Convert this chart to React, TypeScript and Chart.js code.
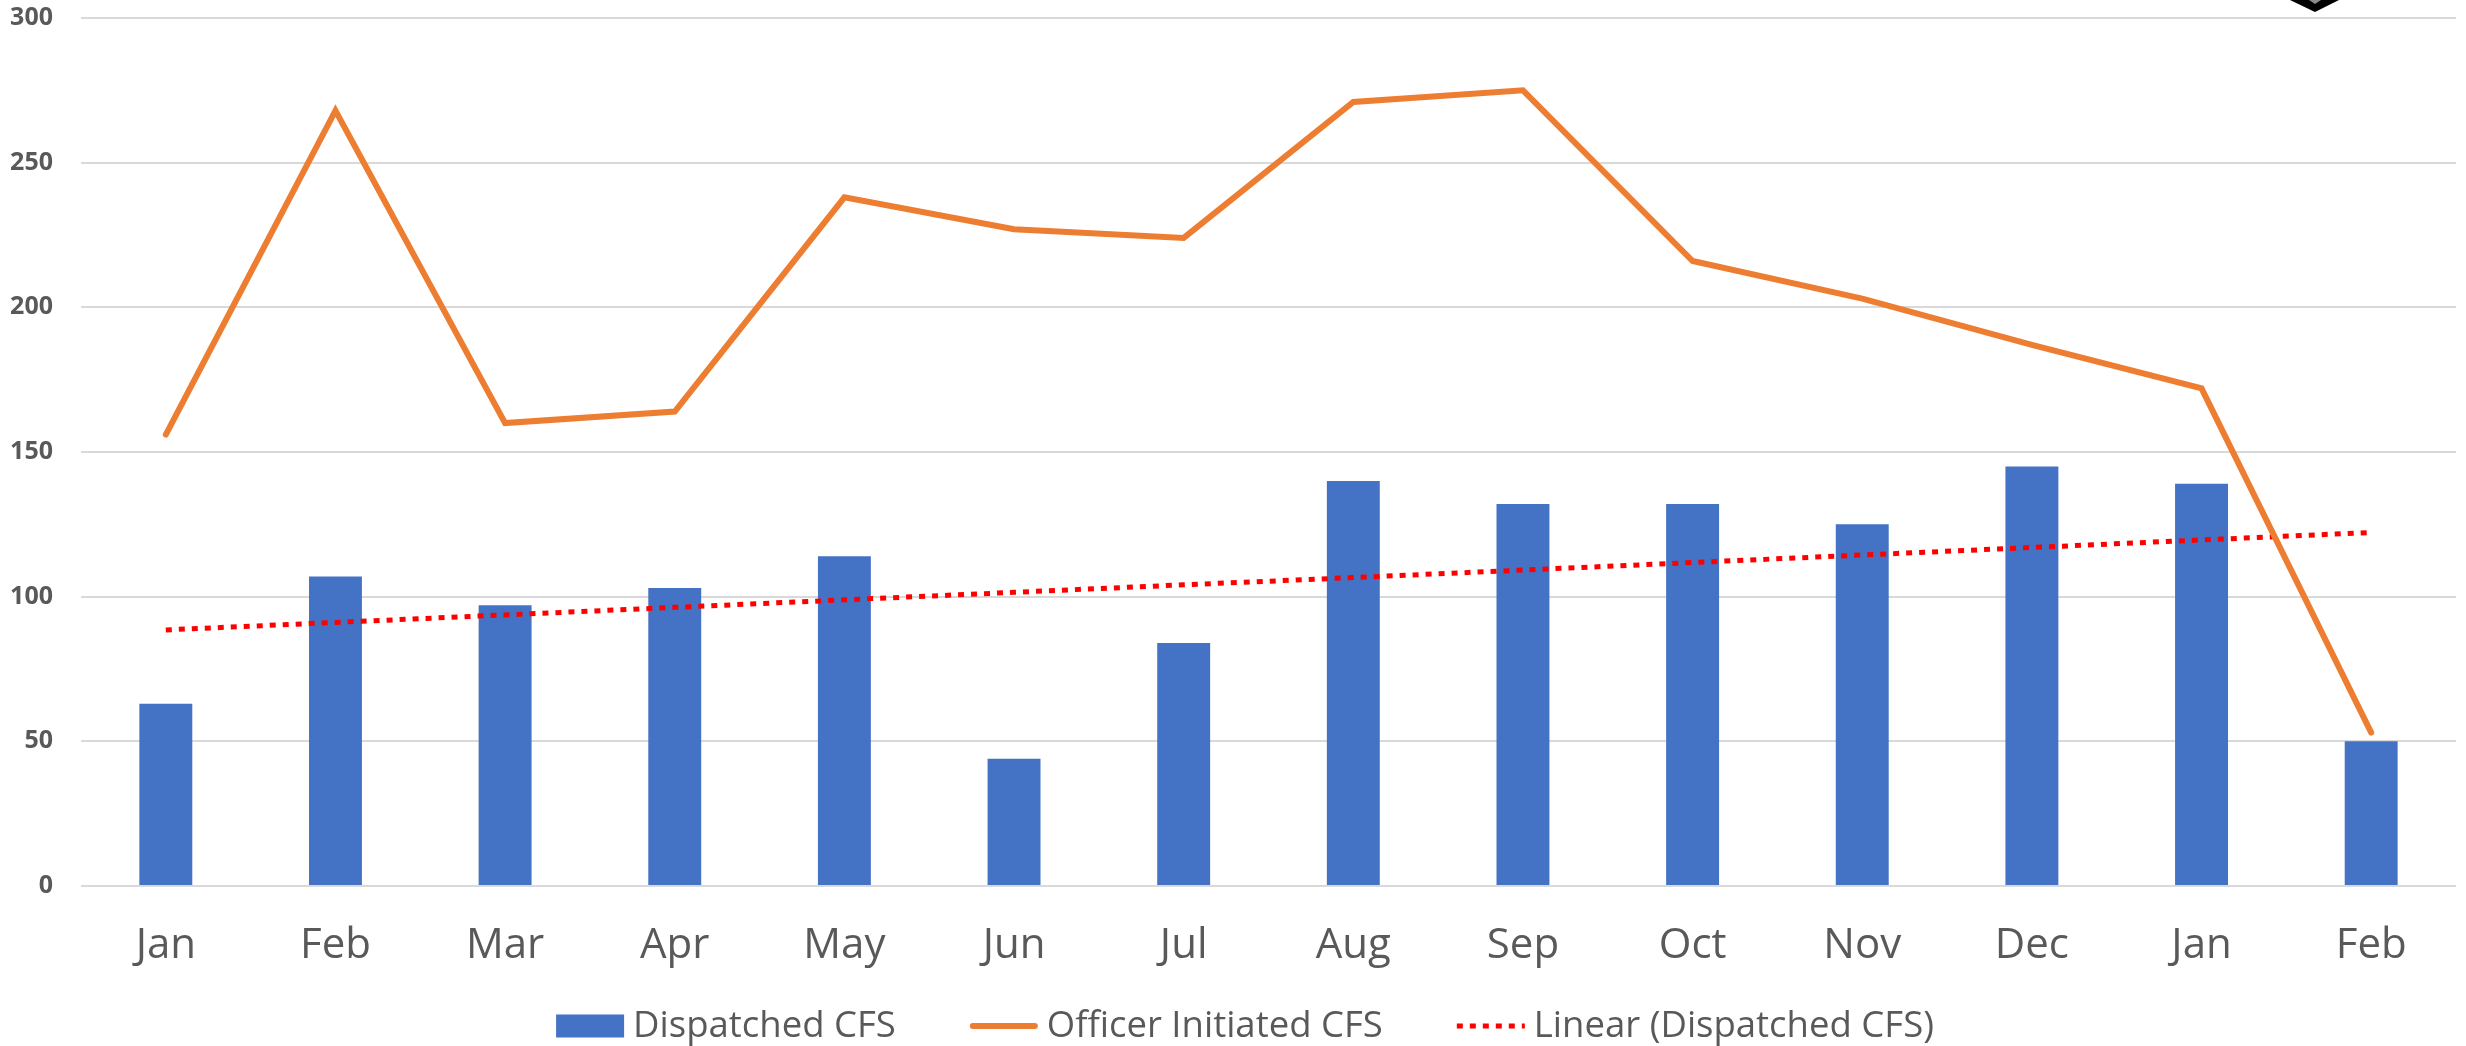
import React, { useEffect, useRef } from "react";
import { Chart, registerables } from "chart.js";

Chart.register(...registerables);

const categories = ["Jan", "Feb", "Mar", "Apr", "May", "Jun", "Jul", "Aug", "Sep", "Oct", "Nov", "Dec", "Jan", "Feb"];
const dispatched = [63, 107, 97, 103, 114, 44, 84, 140, 132, 132, 125, 145, 139, 50];
const officerInitiated = [156, 268, 160, 164, 238, 227, 224, 271, 275, 216, 203, 187, 172, 53];
const linearDispatched = [88.5, 91.1, 93.7, 96.3, 98.9, 101.5, 104.1, 106.6, 109.2, 111.8, 114.4, 117.0, 119.6, 122.2];
const yMin = 0;
const yMax = 300;
const yStep = 50;

const TEXT = "#595959";
const GRID = "#d9d9d9";
const BLUE = "#4472C4";
const ORANGE = "#ED7D31";
const RED = "#FF0000";

const legendPlugin = {
  id: "excelLegend",
  afterDraw(chart: any) {
    const ctx = chart.ctx as CanvasRenderingContext2D;
    ctx.save();
    ctx.font = '36.5px "Open Sans"';
    ctx.textBaseline = "middle";
    ctx.textAlign = "left";
    const symW = 68;
    const gapText = 9;
    const gapItem = 74;
    const items = chart.data.datasets.map((ds: any) => ({
      label: ds.label as string,
      type: ds.type as string,
      color: ds.type === "bar" ? ds.backgroundColor : ds.borderColor,
      dash: ds.borderDash,
      width: ds.borderWidth,
    }));
    const widths = items.map((it: any) => symW + gapText + ctx.measureText(it.label).width);
    const total = widths.reduce((a: number, b: number) => a + b, 0) + gapItem * (items.length - 1);
    let x = chart.width / 2 + 12 - total / 2;
    const cy = chart.height - 20;
    items.forEach((it: any, i: number) => {
      if (it.type === "bar") {
        ctx.fillStyle = it.color;
        ctx.fillRect(x, cy - 11.5, symW, 23);
      } else {
        ctx.beginPath();
        ctx.strokeStyle = it.color;
        ctx.lineWidth = it.width;
        if (it.dash) {
          ctx.setLineDash(it.dash);
          ctx.lineCap = "butt";
        } else {
          ctx.setLineDash([]);
          ctx.lineCap = "round";
        }
        ctx.moveTo(x + (it.dash ? 0 : 3), cy);
        ctx.lineTo(x + symW - (it.dash ? 0 : 3), cy);
        ctx.stroke();
        ctx.setLineDash([]);
      }
      ctx.fillStyle = TEXT;
      ctx.fillText(it.label, x + symW + gapText, cy + 1);
      x += widths[i] + gapItem;
    });
    // partially visible dark marker at the top right corner of the picture
    ctx.beginPath();
    ctx.fillStyle = "#000";
    ctx.moveTo(2290, 0);
    ctx.lineTo(2339, 0);
    ctx.lineTo(2315, 12);
    ctx.closePath();
    ctx.fill();
    ctx.beginPath();
    ctx.fillStyle = "#8a8a8a";
    ctx.moveTo(2309, 0);
    ctx.lineTo(2321, 0);
    ctx.lineTo(2315, 4);
    ctx.closePath();
    ctx.fill();
    ctx.restore();
  },
};

export default function App() {
  const ref = useRef<HTMLCanvasElement | null>(null);
  useEffect(() => {
    document.body.style.margin = "0";
    const canvas = ref.current;
    if (!canvas) return;
    const chart = new Chart(canvas, {
      data: {
        labels: categories,
        datasets: [
          {
            type: "bar",
            label: "Dispatched CFS",
            data: dispatched,
            backgroundColor: BLUE,
            borderWidth: 0,
            barPercentage: 0.312,
            categoryPercentage: 1,
            order: 2,
          },
          {
            type: "line",
            label: "Officer Initiated CFS",
            data: officerInitiated,
            borderColor: ORANGE,
            backgroundColor: ORANGE,
            borderWidth: 6,
            pointRadius: 0,
            tension: 0,
            borderCapStyle: "round",
            borderJoinStyle: "miter",
            order: 0,
          },
          {
            type: "line",
            label: "Linear (Dispatched CFS)",
            data: linearDispatched,
            borderColor: RED,
            backgroundColor: RED,
            borderWidth: 5,
            borderDash: [6, 7],
            pointRadius: 0,
            tension: 0,
            borderCapStyle: "butt",
            order: 1,
          },
        ],
      } as any,
      plugins: [legendPlugin],
      options: {
        responsive: false,
        animation: false,
        events: [],
        layout: { padding: { top: 18, right: 10, bottom: 60, left: 0 } },
        plugins: {
          legend: { display: false },
          tooltip: { enabled: false },
          title: { display: false },
        },
        scales: {
          x: {
            type: "category",
            offset: true,
            grid: { display: false, drawTicks: false },
            border: { display: false },
            ticks: {
              color: TEXT,
              padding: 35,
              font: { family: '"Open Sans"', size: 42 },
              maxRotation: 0,
              autoSkip: false,
            },
            afterFit: (scale: any) => {
              scale.height = 100;
              scale.paddingLeft = 0;
              scale.paddingRight = 0;
            },
          },
          y: {
            min: yMin,
            max: yMax,
            grid: { color: GRID, lineWidth: 2, drawTicks: false },
            border: { display: false },
            ticks: {
              stepSize: yStep,
              color: TEXT,
              padding: 28,
              font: { family: '"Open Sans"', size: 25, weight: "bold" },
            },
            afterFit: (scale: any) => {
              scale.width = 81;
              scale.paddingTop = 0;
              scale.paddingBottom = 0;
            },
          },
        },
      } as any,
    });
    return () => chart.destroy();
  }, []);
  return <canvas ref={ref} width={2466} height={1046} style={{ display: "block" }} />;
}
